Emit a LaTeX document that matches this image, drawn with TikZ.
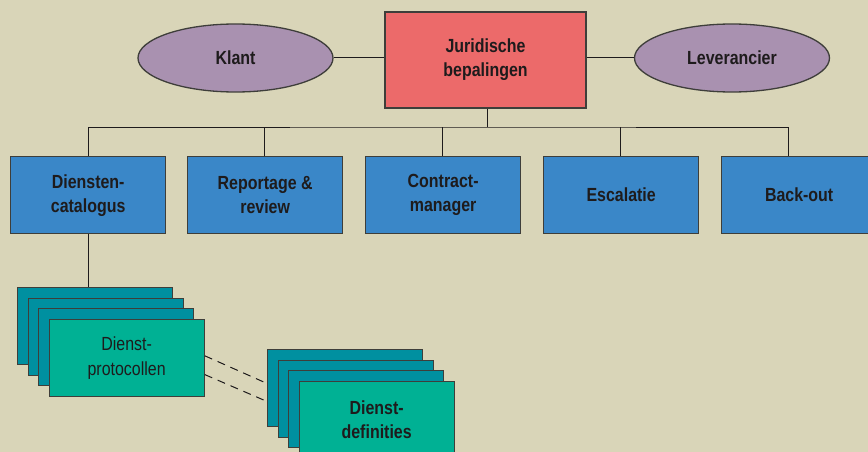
\documentclass[tikz,border=0pt]{standalone}
\usepackage{fontspec}
\setmainfont{Liberation Sans}[FakeStretch=0.84]
\usetikzlibrary{shapes.geometric,calc}
\definecolor{bg}{HTML}{D9D5B8}
\definecolor{boxblue}{HTML}{3A87C8}
\definecolor{boxred}{HTML}{EC6A6A}
\definecolor{ellpurple}{HTML}{A991B0}
\definecolor{tealback}{HTML}{0090A0}
\definecolor{tealfront}{HTML}{00B194}
\definecolor{edge}{HTML}{3E3E3A}
\definecolor{txt}{HTML}{1E1B1C}
\tikzset{
  x=1pt, y=-1pt,
  base/.style={draw=edge, line width=1.3pt, inner sep=0pt, text=txt, align=center,
    font=\fontsize{19}{24}\selectfont\bfseries},
  bluebox/.style={base, rectangle, fill=boxblue, minimum width=155pt, minimum height=77pt, anchor=north west},
  redbox/.style={base, rectangle, fill=boxred, minimum width=201pt, minimum height=96pt},
  ell/.style={base, ellipse, fill=ellpurple, minimum width=195pt, minimum height=68pt},
  backcard/.style={base, rectangle, fill=tealback, minimum width=155pt, minimum height=77pt, anchor=north west},
  frontcard/.style={base, rectangle, fill=tealfront, minimum width=155pt, minimum height=77pt, anchor=north west},
  conn/.style={draw=txt, line width=1pt},
  dconn/.style={draw=txt, line width=1pt, dash pattern=on 8pt off 6pt},
}
\begin{document}
\begin{tikzpicture}
\useasboundingbox (0,0) rectangle (868,452);
\fill[bg] (0,0) rectangle (868,452);
\begin{scope}
\clip (0,0) rectangle (868,452);
% top row
\node[redbox] (jur) at (485.5,60) {Juridische\\bepalingen};
\node[ell] (klant) at (235.5,58) {Klant};
\node[ell] (lev) at (732,58) {Leverancier};
\draw[conn] (klant.east) -- (klant.east -| jur.west);
\draw[conn] (lev.west) -- (lev.west -| jur.east);
% second row
\node[bluebox] (b1) at (10,156) {Diensten-\\catalogus};
\node[bluebox] (b2) at (187,156) {Reportage \&\\review};
\node[bluebox] (b3) at (365,156) {Contract-\\manager};
\node[bluebox] (b4) at (543,156) {Escalatie};
\node[bluebox] (b5) at (721,156) {Back-out};
\coordinate (bus) at (487,127);
\draw[conn] (jur.south -| bus) -- (bus);
\draw[conn] (b1.north -| 88,0) |- (bus) -| ($(b5.north west)+(67,0)$);
\draw[conn] (b2.north -| 264,0) -- (264,127);
\draw[conn] (b3.north -| 442,0) -- (442,127);
\draw[conn] (b4.north -| 620,0) -- (620,127);
% left stack
\node[backcard] (l1) at (17,287) {};
\node[backcard] (l2) at (27.5,297.5) {};
\node[backcard] (l3) at (38,308) {};
\node[frontcard, font=\fontsize{19}{25}\selectfont] (l4) at (48.5,319) {Dienst-\\protocollen};
\draw[conn] (b1.south -| 88,0) -- (l1.north -| 88,0);
% right stack
\node[backcard] (r1) at (267,349) {};
\node[backcard] (r2) at (277.5,359.5) {};
\node[backcard] (r3) at (288,370) {};
\node[frontcard] (r4) at (298.5,380.5) {Dienst-\\definities};
\draw[dconn] ($(l4.north east)!0.47!(l4.south east)$) -- ($(r1.north west)!0.44!(r1.south west)$);
\draw[dconn] ($(l4.north east)!0.71!(l4.south east)$) -- ($(r1.north west)!0.67!(r1.south west)$);
\end{scope}
\end{tikzpicture}
\end{document}
